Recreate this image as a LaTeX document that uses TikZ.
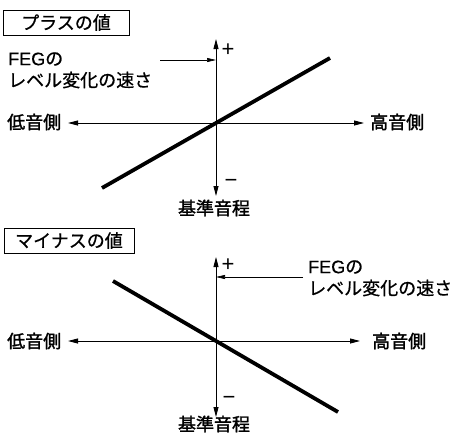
\documentclass[tikz,border=0pt]{standalone}
\usepackage{fontspec}
\setmainfont{Noto Sans CJK JP}
\newfontfamily\jpmid[FakeBold=0.7]{Noto Sans CJK JP}
\newfontfamily\jpbold[FakeBold=1.6]{Noto Sans CJK JP}
\newfontfamily\latfont[FakeBold=0.5]{Liberation Sans}
\newfontfamily\sgnfont{Liberation Sans}
\usetikzlibrary{arrows.meta}
\tikzset{
  lbl/.style={inner sep=0pt, font=\jpmid\fontsize{18}{21}\selectfont, anchor=west},
  axlbl/.style={inner sep=0pt, font=\jpbold\fontsize{18}{21}\selectfont},
  sgn/.style={inner sep=0pt, font=\sgnfont\fontsize{22}{24}\selectfont},
  titlebox/.style={draw, line width=0.8pt, inner sep=0pt, font=\jpmid\fontsize{18}{21}\selectfont},
  axis/.style={line width=0.9pt, {Triangle[length=10pt,width=5pt]}-{Triangle[length=10pt,width=5pt]}},
  pointer/.style={line width=0.7pt, -{Triangle[length=9pt,width=4pt]}},
  curve/.style={line width=3.8pt}
}
\begin{document}
\begin{tikzpicture}[x=1pt,y=-1pt]
\useasboundingbox (0,0) rectangle (458,434);
% ---------- top: plus ----------
\node[titlebox, minimum width=126pt, minimum height=25pt] (t1) at (66,22.5) {プラスの値};
\coordinate (t-vt) at (216,39);
\coordinate (t-vb) at (216,196);
\coordinate (t-hl) at (68,123);
\coordinate (t-hr) at (364,123);
\coordinate (t-c1) at (102,188);
\coordinate (t-c2) at (330,58);
\coordinate (t-ps) at (160,60);
\coordinate (t-pe) at (216,60);
\draw[axis] (t-vb) -- (t-vt);
\draw[axis] (t-hl) -- (t-hr);
\draw[curve] (t-c1) -- (t-c2);
\draw[pointer] (t-ps) -- (t-pe);
\node[sgn] (t-plus) at (228,50) {+};
\node[sgn] (t-minus) at (231,183) {−};
\node[lbl] (t-feg1) at (8,59) {{\latfont FEG}の};
\node[lbl] (t-feg2) at (8,80) {レベル変化の速さ};
\node[axlbl, anchor=west] (t-low) at (7,122) {低音側};
\node[axlbl, anchor=west] (t-high) at (370,122) {高音側};
\node[axlbl] (t-base) at (214,208) {基準音程};
% ---------- bottom: minus ----------
\node[titlebox, minimum width=130pt, minimum height=25pt] (t2) at (69,240.5) {マイナスの値};
\coordinate (b-vt) at (216,257);
\coordinate (b-vb) at (216,417);
\coordinate (b-hl) at (68,341);
\coordinate (b-hr) at (360,341);
\coordinate (b-c1) at (113,281);
\coordinate (b-c2) at (338,412);
\coordinate (b-ps) at (303,277);
\coordinate (b-pe) at (216,277);
\draw[axis] (b-vb) -- (b-vt);
\draw[axis] (b-hl) -- (b-hr);
\draw[curve] (b-c1) -- (b-c2);
\draw[pointer] (b-ps) -- (b-pe);
\node[sgn] (b-plus) at (228,265) {+};
\node[sgn] (b-minus) at (229,400) {−};
\node[lbl] (b-feg1) at (308,267) {{\latfont FEG}の};
\node[lbl] (b-feg2) at (308,288) {レベル変化の速さ};
\node[axlbl, anchor=west] (b-low) at (7,341) {低音側};
\node[axlbl, anchor=west] (b-high) at (372,341) {高音側};
\node[axlbl] (b-base) at (214,424) {基準音程};
\end{tikzpicture}
\end{document}
